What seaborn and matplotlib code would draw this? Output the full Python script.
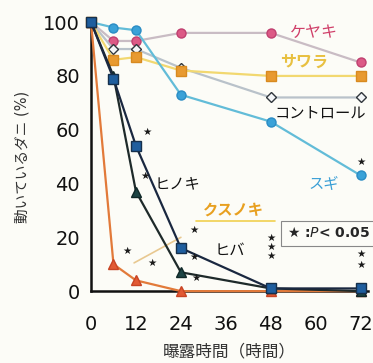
import matplotlib
matplotlib.use('Agg')
import matplotlib.pyplot as plt
import seaborn as sns

# data
hours = [0, 6, 12, 24, 48, 72]
keyaki = [100, 93, 93, 96, 96, 85]
sawara = [100, 86, 87, 82, 80, 80]
control = [100, 90, 90, 83, 72, 72]
sugi = [100, 98, 97, 73, 63, 43]
hiba = [100, 79, 54, 16, 1, 1]
hinoki = [100, 80, 37, 7, 1, 0]
kusunoki = [100, 10, 4, 0, 0, 0]

# significance marks (hour, %)
star_x = [15, 14.5, 9.7, 16.4, 27.4, 27.4, 28, 48, 48, 48, 72, 72, 72]
star_y = [59, 43, 15, 10.4, 22.7, 12.6, 5, 19.7, 16.4, 13, 14, 9.7, 48]

xticks = [0, 12, 24, 36, 48, 60, 72]
yticks = [0, 20, 40, 60, 80, 100]

sns.set_style('white')
plt.rcParams['font.family'] = ['DejaVu Sans', 'Noto Sans CJK JP']

fig = plt.figure(figsize=(3.73, 3.63), dpi=100, facecolor='#fcfcf7')
ax = fig.add_axes([0.244, 0.198, 0.743, 0.741])
ax.set_facecolor('#fcfcf7')

# series: (values, line colour, marker, face colour, edge colour)
series = [
    (keyaki, '#c9bcc4', 'o', '#dc5a86', '#c04070'),
    (control, '#b9c2ca', 'D', '#f4f6f8', '#30363c'),
    (sawara, '#f2d870', 's', '#e89a30', '#d88a20'),
    (sugi, '#62bcd8', 'o', '#3aa2d8', '#2a8cc4'),
    (kusunoki, '#e27a3a', '^', '#e25a34', '#c84424'),
    (hinoki, '#1e2a2a', '^', '#1d4444', '#102828'),
    (hiba, '#1a2840', 's', '#1f5e9e', '#16304c'),
]
for vals, lc, mk, fc, ec in series:
    ms = 5 if mk == 'D' else 6.5
    sns.lineplot(x=hours, y=vals, ax=ax, color=lc, lw=1.6, marker=mk,
                 markersize=ms, markerfacecolor=fc, markeredgecolor=ec,
                 markeredgewidth=1.0, clip_on=False, zorder=3)

# stars
for sx, sy in zip(star_x, star_y):
    ax.text(sx, sy, '★', fontsize=7.5, ha='center', va='center', color='#1a1a1a', zorder=4)

# series labels
ax.text(53, 96, 'ケヤキ', fontsize=11.5, color='#d0406a', va='center')
ax.text(50.5, 85, 'サワラ', fontsize=11.5, color='#e8c040', va='center', fontweight='bold')
ax.text(49, 66, 'コントロール', fontsize=11, color='#111111', va='center')
ax.text(58, 40, 'スギ', fontsize=11, color='#3a9fd6', va='center')
ax.text(17, 40, 'ヒノキ', fontsize=11, color='#111111', va='center')
ax.text(30, 30, 'クスノキ', fontsize=11, color='#e8a020', va='center', fontweight='bold')
ax.text(33, 15, 'ヒバ', fontsize=11, color='#111111', va='center')

# pointer and underline for クスノキ
ax.plot([28, 49], [26, 26], color='#f0d050', lw=1.2, zorder=2)
ax.plot([24, 11.5], [20, 10.5], color='#e8c890', lw=1.2, zorder=2)

# legend box
ax.text(52.3, 21.5, '★ :$P$< 0.05', fontsize=10, fontweight='bold', va='center', ha='left',
        bbox=dict(boxstyle='square,pad=0.4', fc='#fcfcf7', ec='#888888', lw=0.8), zorder=5)

ax.set_xlim(0, 74)
ax.set_ylim(0, 100)
ax.set_xticks(xticks)
ax.set_yticks(yticks)
ax.set_yticks(range(10, 100, 20), minor=True)
ax.tick_params(axis='both', direction='in', length=5, width=1.2, labelsize=14, colors='#111111')
ax.tick_params(axis='y', which='minor', direction='in', length=5, width=1.2)
ax.tick_params(axis='y', pad=8)
ax.tick_params(axis='x', pad=17)

ax.set_xlabel('曝露時間（時間）', fontsize=12, color='#333333', labelpad=6)
ax.set_ylabel('動いているダニ (%)', fontsize=10.5, color='#333333', labelpad=10)

sns.despine(ax=ax)
for s in ['left', 'bottom']:
    ax.spines[s].set_linewidth(1.8)
    ax.spines[s].set_color('#111111')

fig.savefig('out.png', dpi=100, facecolor=fig.get_facecolor())
